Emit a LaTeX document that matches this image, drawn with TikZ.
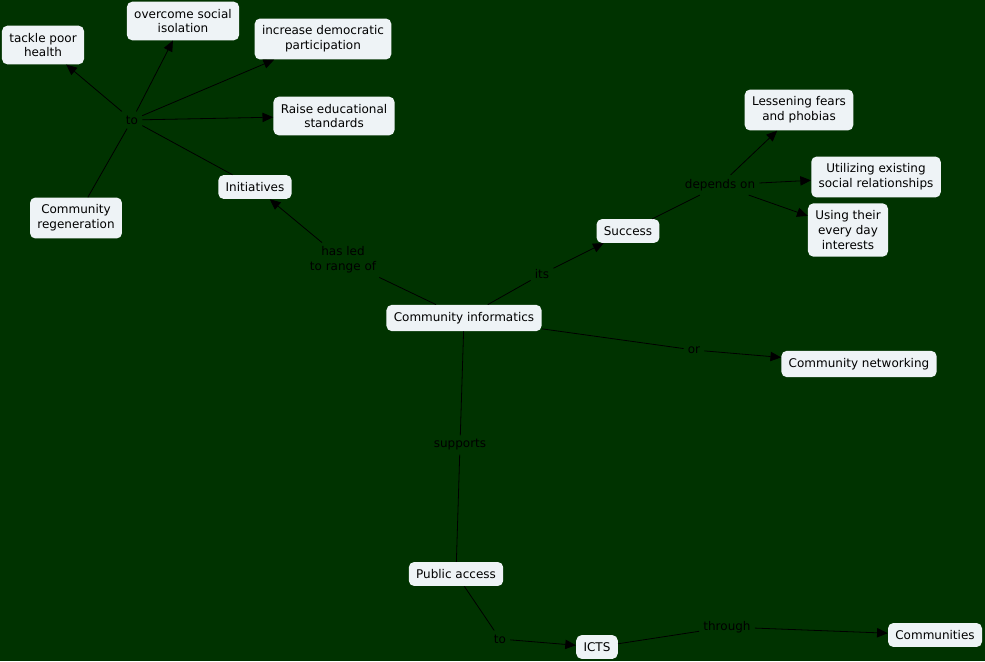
\documentclass[tikz,border=0pt]{standalone}
\usepackage{fontspec}
\setmainfont{DejaVu Sans}
\usepackage{xcolor}
\usetikzlibrary{arrows.meta,positioning}
\definecolor{mapbg}{RGB}{0,51,0}
\definecolor{boxfill}{RGB}{238,243,246}
\tikzset{box/.style={fill=boxfill,rounded corners=4pt,align=center,inner xsep=5.5pt,inner ysep=5.5pt,font=\fontsize{9}{11}\selectfont},
  lbl/.style={inner sep=3pt,font=\fontsize{9}{11}\selectfont,text=black,align=center},
  arr/.style={-{Triangle[length=8pt,width=7pt]},black,line width=0.6pt},
  ln/.style={black,line width=0.6pt}}

\begin{document}
\begin{tikzpicture}[x=0.75pt,y=-0.75pt]
\fill[mapbg] (0,0) rectangle (985,661);
\useasboundingbox (0,0) rectangle (985,661);
% concepts
\node[box] (tackle) at (43,45) {tackle poor\\health};
\node[box] (overcome) at (183,21) {overcome social\\isolation};
\node[box] (increase) at (323,39) {increase democratic\\participation};
\node[box] (raise) at (334,116) {Raise educational\\standards};
\node[box] (init) at (255,187) {Initiatives};
\node[box] (regen) at (76,218) {Community\\regeneration};
\node[box] (lessen) at (799,110) {Lessening fears\\and phobias};
\node[box] (utilize) at (876,177) {Utilizing existing\\social relationships};
\node[box] (using) at (848,230) {Using their\\every day\\interests};
\node[box] (success) at (628,231) {Success};
\node[box] (ci) at (464,318) {Community informatics};
\node[box] (cn) at (859,364) {Community networking};
\node[box] (public) at (456,574) {Public access};
\node[box] (icts) at (597,647) {ICTS};
\node[box] (comm) at (935,635) {Communities};
% linking phrases
\node[lbl] (to1) at (132,120) {to};
\node[lbl] (hasled) at (343,260) {has led\\to range of};
\node[lbl] (its) at (542,274) {its};
\node[lbl] (depends) at (720,185) {depends on};
\node[lbl] (or) at (694,350) {or};
\node[lbl] (supports) at (460,445) {supports};
\node[lbl] (to2) at (500,639) {to};
\node[lbl] (through) at (727,627) {through};
% connections
\draw[ln] (regen) -- (to1);
\draw[ln] (init) -- (to1);
\foreach \t in {tackle,overcome,increase,raise}
  \draw[arr] (to1) -- (\t);
\draw[ln] (ci) -- (hasled);
\draw[arr] (hasled) -- (init);
\draw[ln] (ci) -- (its);
\draw[arr] (its) -- (success);
\draw[ln] (success) -- (depends);
\foreach \t in {lessen,utilize,using}
  \draw[arr] (depends) -- (\t);
\draw[ln] (ci) -- (or);
\draw[arr] (or) -- (cn);
\draw[ln] (ci) -- (supports);
\draw[ln] (supports) -- (public);
\draw[ln] (public) -- (to2);
\draw[arr] (to2) -- (icts);
\draw[ln] (icts) -- (through);
\draw[arr] (through) -- (comm);
\end{tikzpicture}
\end{document}
